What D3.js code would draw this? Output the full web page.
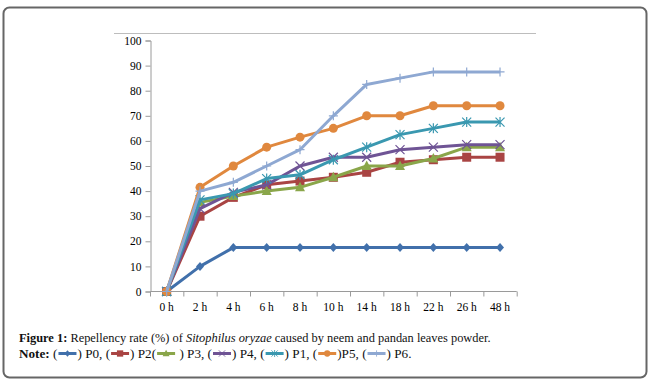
<!DOCTYPE html>
<html><head><meta charset="utf-8">
<script src="https://cdn.jsdelivr.net/npm/d3@7"></script>
<style>html,body{margin:0;padding:0;background:#fff;}svg{display:block;}
.serif{font-family:"Liberation Serif","Times New Roman",serif;}</style>
</head><body>
<svg id="c" width="654" height="387"></svg>
<script>
const categories = ["0 h","2 h","4 h","6 h","8 h","10 h","14 h","18 h","22 h","26 h","48 h"];
const yTicks = [0,10,20,30,40,50,60,70,80,90,100];
const seriesNames = ["P0","P2","P3","P4","P1","P5","P6"];
const P0 = [0,10,17.5,17.5,17.5,17.5,17.5,17.5,17.5,17.5,17.5];
const P2 = [0,30,37.5,42.5,44,45.5,47.5,51.5,52.5,53.5,53.5];
const P3 = [0,35.5,38,40,41.5,45.5,50,50,53,57.5,57.5];
const P4 = [0,33,39.5,42.5,50,53.5,53.5,56.5,57.5,58.5,58.5];
const P1 = [0,36.5,39,45,46.5,52.5,57.5,62.5,65,67.5,67.5];
const P5 = [0,41.5,50,57.5,61.5,65,70,70,74,74,74];
const P6 = [0,40,43.5,50,56.5,70,82.5,85,87.5,87.5,87.5];
const seriesValues = [P0,P2,P3,P4,P1,P5,P6];
const colors = ["#4170AB","#A94443","#8AA64A","#6F5495","#3A98B0","#E0883E","#8EA8D2"];
const markers = ["diamond","square","triangle","x","asterisk","circle","plus"];

const svg = d3.select("#c");
svg.append("rect").attr("x",3.5).attr("y",7.5).attr("width",643).attr("height",370)
  .attr("rx",6).attr("fill","#fff").attr("stroke","#666").attr("stroke-width",2);
svg.append("line").attr("x1",114).attr("x2",536).attr("y1",33.5).attr("y2",33.5)
  .attr("stroke","#bdbdbd").attr("stroke-width",1.2);

const x = d3.scaleBand().domain(categories).range([150,516.7]);
const y = d3.scaleLinear().domain([0,100]).range([291.5,40.5]);

const yAxis = svg.append("g").attr("transform","translate(150.5,0)")
  .call(d3.axisLeft(y).tickValues(yTicks).tickSize(5).tickPadding(4));
const xAxis = svg.append("g").attr("transform","translate(0,291.5)")
  .call(d3.axisBottom(x).tickSize(0).tickPadding(11));
svg.append("g").selectAll("line").data(d3.range(categories.length+1)).join("line")
  .attr("x1",i=>150.5+i*x.step()).attr("x2",i=>150.5+i*x.step())
  .attr("y1",291.5).attr("y2",296.5).attr("stroke","#9a9a9a");
[yAxis,xAxis].forEach(g=>{
  g.attr("font-family",null).attr("font-size",null);
  g.selectAll("path,line").attr("stroke","#9a9a9a");
  g.selectAll("text").attr("class","serif").style("font-size","11.5px").attr("fill","#000");
});
xAxis.select(".domain").attr("d","M150.5,0H516.7");

function drawMarker(g, type, cx, cy, color){
  const s=4.5;
  if(type==="diamond") g.append("path").attr("d",`M${cx},${cy-4.5}L${cx+4},${cy}L${cx},${cy+4.5}L${cx-4},${cy}Z`).attr("fill",color);
  else if(type==="square") g.append("rect").attr("x",cx-4.5).attr("y",cy-4.5).attr("width",9).attr("height",9).attr("fill",color);
  else if(type==="triangle") g.append("path").attr("d",`M${cx},${cy-5.5}L${cx+5},${cy+4}L${cx-5},${cy+4}Z`).attr("fill",color);
  else if(type==="circle") g.append("circle").attr("cx",cx).attr("cy",cy).attr("r",4.5).attr("fill",color);
  else if(type==="x") g.append("path").attr("d",`M${cx-s},${cy-s}L${cx+s},${cy+s}M${cx-s},${cy+s}L${cx+s},${cy-s}`).attr("stroke",color).attr("stroke-width",1.2).attr("fill","none");
  else if(type==="asterisk") g.append("path").attr("d",`M${cx-s},${cy-s}L${cx+s},${cy+s}M${cx-s},${cy+s}L${cx+s},${cy-s}M${cx},${cy-s-0.5}L${cx},${cy+s+0.5}`).attr("stroke",color).attr("stroke-width",1.2).attr("fill","none");
  else if(type==="plus") g.append("path").attr("d",`M${cx-s},${cy}L${cx+s},${cy}M${cx},${cy-s}L${cx},${cy+s}`).attr("stroke",color).attr("stroke-width",1.2).attr("fill","none");
}

const line = d3.line().x((d,i)=>x(categories[i])+x.bandwidth()/2).y(d=>y(d));
seriesValues.forEach((vals,k)=>{
  const g = svg.append("g");
  g.append("path").datum(vals).attr("d",line).attr("fill","none")
    .attr("stroke",colors[k]).attr("stroke-width",3).attr("stroke-linejoin","round");
  vals.forEach((v,i)=>drawMarker(g,markers[k],x(categories[i])+x.bandwidth()/2,y(v),colors[k]));
});

const cap1 = svg.append("text").attr("class","serif").attr("x",19).attr("y",342).style("font-size","12.4px").attr("fill","#111");
cap1.append("tspan").attr("font-weight","bold").text("Figure 1:");
cap1.append("tspan").text(" Repellency rate (%) of ");
cap1.append("tspan").attr("font-style","italic").text("Sitophilus oryzae");
cap1.append("tspan").text(" caused by neem and pandan leaves powder.");

const cap2Size = "13.2px";
const pieces = [["Note:",true],[" (",false],["S0"],[") P0, (",false],["S1"],[") P2(",false],["S2"],[" ) P3, (",false],["S3"],[") P4, (",false],["S4"],[") P1, (",false],["S5"],[")P5, (",false],["S6"],[") P6.",false]];
let cx = 19; const by = 358;
pieces.forEach(p=>{
  if(p.length===1){
    const k=+p[0][1];
    svg.append("line").attr("x1",cx+1).attr("x2",cx+19).attr("y1",by-4.5).attr("y2",by-4.5).attr("stroke",colors[k]).attr("stroke-width",3);
    const mk = svg.append("g");
    drawMarker(mk,markers[k],cx+10,by-4.5,colors[k]);
    mk.attr("transform",`translate(${cx+10},${by-4.5}) scale(0.7) translate(${-(cx+10)},${-(by-4.5)})`);
    cx += 20;
  } else {
    const t = svg.append("text").attr("class","serif").attr("x",cx).attr("y",by).style("font-size",cap2Size).attr("fill","#111")
      .attr("font-weight",p[1]?"bold":"normal").style("white-space","pre").text(p[0]);
    cx += t.node().getComputedTextLength();
  }
});
</script>
</body></html>
